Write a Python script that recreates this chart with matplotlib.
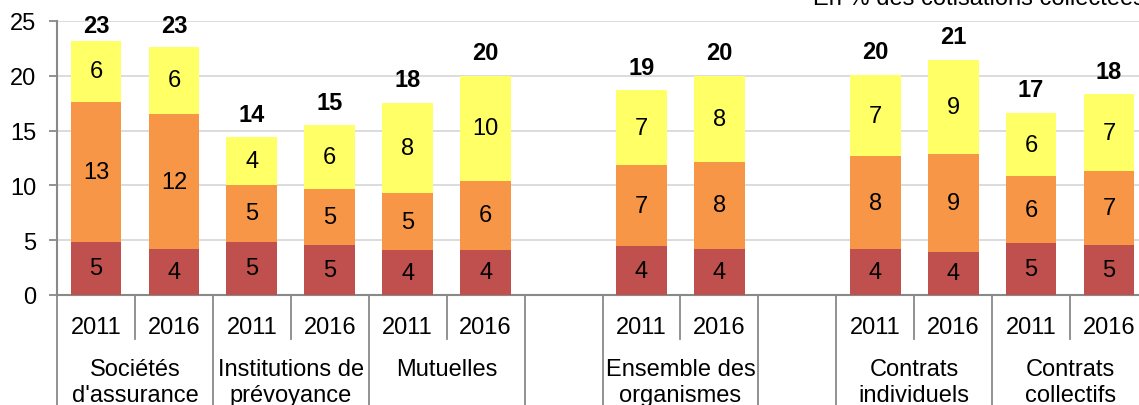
import numpy as np
import matplotlib
matplotlib.use("Agg")
import matplotlib.pyplot as plt

plt.rcParams["font.family"] = ["Liberation Sans", "DejaVu Sans"]

# one slot per category, '' = empty spacer slot
years = ["2011", "2016", "2011", "2016", "2011", "2016", "",
         "2011", "2016", "", "2011", "2016", "2011", "2016"]
groups = ["Sociétés\nd'assurance", "Institutions de\nprévoyance", "Mutuelles", "",
          "Ensemble des\norganismes", "", "Contrats\nindividuels", "Contrats\ncollectifs"]
group_span = [2, 2, 2, 1, 2, 1, 2, 2]

nan = np.nan
red = [4.85, 4.2, 4.85, 4.54, 4.09, 4.15, nan, 4.45, 4.24, nan, 4.2, 3.93, 4.75, 4.57]
orange = [12.79, 12.3, 5.18, 5.12, 5.18, 6.27, nan, 7.43, 7.92, nan, 8.45, 8.96, 6.07, 6.74]
yellow = [5.55, 6.15, 4.36, 5.82, 8.25, 9.6, nan, 6.8, 7.83, nan, 7.43, 8.59, 5.79, 7.01]

red_lbl = [5, 4, 5, 5, 4, 4, None, 4, 4, None, 4, 4, 5, 5]
orange_lbl = [13, 12, 5, 5, 5, 6, None, 7, 8, None, 8, 9, 6, 7]
yellow_lbl = [6, 6, 4, 6, 8, 10, None, 7, 8, None, 7, 9, 6, 7]
total_lbl = [23, 23, 14, 15, 18, 20, None, 19, 20, None, 20, 21, 17, 18]

c_red = "#C0504D"
c_orange = "#F79646"
c_yellow = "#FFFF66"
axis_gray = "#898989"

fig = plt.figure(figsize=(11.39, 4.06), dpi=100)
ax = fig.add_axes([57 / 1139, 110 / 406, 1091 / 1139, 274 / 406])

x = np.arange(len(years))
red = np.array(red)
orange = np.array(orange)
yellow = np.array(yellow)
w = 0.65
ax.bar(x, red, w, color=c_red, zorder=3)
ax.bar(x, orange, w, bottom=red, color=c_orange, zorder=3)
ax.bar(x, yellow, w, bottom=red + orange, color=c_yellow, zorder=3)

fs = 17
for i in x:
    if total_lbl[i] is None:
        continue
    ax.text(i, red[i] / 2, str(red_lbl[i]), ha="center", va="center", fontsize=fs, zorder=4)
    ax.text(i, red[i] + orange[i] / 2, str(orange_lbl[i]), ha="center", va="center",
            fontsize=fs, zorder=4)
    top = red[i] + orange[i] + yellow[i]
    ax.text(i, top - yellow[i] / 2, str(yellow_lbl[i]), ha="center", va="center",
            fontsize=fs, zorder=4)
    ax.text(i, min(top + 2.1, 24.55), str(total_lbl[i]), ha="center", va="center",
            fontsize=fs, fontweight="bold", zorder=4)

ax.set_xlim(-0.5, len(years) - 0.5)
ax.set_ylim(0, 25)
ax.set_yticks(range(0, 26, 5))
ax.tick_params(axis="y", labelsize=fs, length=6, width=1.3, color=axis_gray, pad=9)
ax.set_xticks(x)
ax.set_xticklabels(years, fontsize=fs)
ax.tick_params(axis="x", length=0, pad=15)
ax.grid(axis="y", color="#D9D9D9", lw=1.3, zorder=0)
for s in ["top", "right"]:
    ax.spines[s].set_visible(False)
for s in ["left", "bottom"]:
    ax.spines[s].set_color(axis_gray)
    ax.spines[s].set_linewidth(1.5)

# category separators below the axis
trans = ax.get_xaxis_transform()
edges = np.concatenate([[0], np.cumsum(group_span)]) - 0.5
for e in edges:
    ax.plot([e, e], [0, -0.45], transform=trans, color=axis_gray, lw=1.3, clip_on=False)
pos = 0
for name, span in zip(groups, group_span):
    for k in range(1, span):
        e = pos + k - 0.5
        ax.plot([e, e], [0, -0.162], transform=trans, color=axis_gray, lw=1.3, clip_on=False)
    if name:
        ax.text(pos + (span - 1) / 2, -0.23, name, transform=trans, ha="center", va="top",
                fontsize=fs, linespacing=1.21)
    pos += span

fig.text(813 / 1139, 1 - 5 / 406, "En % des cotisations collectées", ha="left",
         va="baseline", fontsize=fs)

fig.savefig("out.png", dpi=100)
